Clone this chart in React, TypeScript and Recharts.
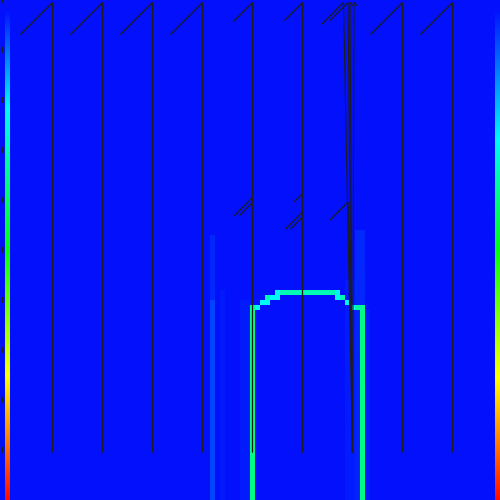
import { ComposedChart, XAxis, YAxis, ReferenceArea, ReferenceLine } from "recharts"

// grid is 100 x 100 cells, each cell 5px; rows counted from the top
const colorStops: [number, number[]][] = [
  [0, [2, 16, 252]],
  [0.25, [0, 248, 255]],
  [0.5, [0, 255, 16]],
  [0.75, [255, 255, 0]],
  [1, [255, 8, 0]],
]

// faint column tints in the field
const tintCol = [42, 42, 44, 48, 69, 71, 71, 73]
const tintWidth = [1, 1, 1, 2, 2, 2, 1, 1]
const tintRow = [47, 60, 58, 60, 56, 46, 62, 62]
const tintValue = [0.025, 0.055, 0.01, 0.012, 0.012, 0.025, 0.02, 0.012]

// the cyan / green ring
const ringCol = [55, 56, 67, 53, 54, 67, 68, 52, 69, 50, 51, 70, 71, 50, 72]
const ringRow = [58, 58, 58, 59, 59, 59, 59, 60, 60, 61, 61, 61, 61, 62, 62]
const ringWidth = [1, 11, 1, 1, 2, 1, 1, 2, 1, 1, 1, 1, 2, 1, 1]
const ringHeight = [1, 1, 1, 1, 1, 1, 1, 1, 1, 1, 1, 1, 1, 38, 38]
const ringValue = [0.26, 0.33, 0.26, 0.33, 0.26, 0.26, 0.33, 0.26, 0.26, 0.36, 0.26, 0.26, 0.36, 0.38, 0.38]

// wind barbs: staff base, staff tip, barb lengths (negative = small spur to the right)
const barbBaseCol = [10.5, 20.5, 30.5, 40.5, 50.5, 60.5, 80.5, 90.5, 50.5, 60.5, 60.5, 70.5, 70.5, 70.5, 70.5, 70.3]
const barbBaseRow = [90.5, 90.5, 90.5, 90.5, 90.5, 90.5, 90.5, 90.5, 90.5, 90.5, 90.5, 90.5, 90.5, 90.5, 90.5, 70.5]
const barbTipCol = [10.5, 20.5, 30.5, 40.5, 50.5, 60.5, 80.5, 90.5, 50.5, 60.5, 60.5, 68.7, 69.6, 70.0, 70.8, 69.6]
const barbTipRow = [0.5, 0.5, 0.5, 0.5, 0.5, 0.5, 0.5, 0.5, 39.5, 38.7, 42.4, 0.5, 0.5, 0.5, 0.5, 40.4]
const barbTicks = [
  [6.4], [6.4], [6.4], [6.4], [3.8], [3.6], [6.4], [6.4],
  [3.7, 2.6], [1.7], [3.4, 2.4],
  [4.4], [3.6], [-0.6], [-0.6], [3.7, -0.4],
]

const tickRows = [0, 10, 20, 30, 40, 50, 60, 70, 80, 90]

const INK = "#1d1d1d"

function jet(v: number) {
  for (let i = 1; i < colorStops.length; i++) {
    const [p1, c1] = colorStops[i]
    const [p0, c0] = colorStops[i - 1]
    if (v <= p1) {
      const t = (v - p0) / (p1 - p0)
      const c = c0.map((a, k) => Math.round(a + (c1[k] - a) * t))
      return `rgb(${c[0]},${c[1]},${c[2]})`
    }
  }
  const c = colorStops[colorStops.length - 1][1]
  return `rgb(${c[0]},${c[1]},${c[2]})`
}

function barbSegments() {
  const segs: { x1: number; y1: number; x2: number; y2: number }[] = []
  barbTipCol.forEach((tx, i) => {
    const ty = barbTipRow[i]
    const bx = barbBaseCol[i]
    const by = barbBaseRow[i]
    segs.push({ x1: bx, y1: by, x2: tx, y2: ty })
    const len = Math.hypot(bx - tx, by - ty)
    const ux = (bx - tx) / len
    const uy = (by - ty) / len
    barbTicks[i].forEach((L, j) => {
      const sx = tx + ux * j
      const sy = ty + uy * j
      segs.push({ x1: sx, y1: sy, x2: sx + (L > 0 ? -L : -L), y2: sy + Math.abs(L) })
    })
  })
  return segs
}

export default function App() {
  const segs = barbSegments()
  return (
    <div style={{ position: "absolute", left: 0, top: 0, width: 500, height: 500 }}>
      <ComposedChart width={500} height={500} data={[{ x: 0, y: 0 }]} margin={{ top: 0, right: 0, bottom: 0, left: 0 }}>
        <defs>
          <linearGradient id="barLeft" x1="0" y1="0" x2="0" y2="1">
            <stop offset="0" stopColor={jet(0)} />
            <stop offset="0.2" stopColor={jet(0.25)} />
            <stop offset="0.49" stopColor={jet(0.5)} />
            <stop offset="0.745" stopColor={jet(0.75)} />
            <stop offset="1" stopColor={jet(1)} />
          </linearGradient>
          <linearGradient id="barRight" x1="0" y1="0" x2="0" y2="1">
            <stop offset="0" stopColor={jet(0)} />
            <stop offset="0.265" stopColor={jet(0.25)} />
            <stop offset="0.49" stopColor={jet(0.5)} />
            <stop offset="0.75" stopColor={jet(0.75)} />
            <stop offset="1" stopColor={jet(1)} />
          </linearGradient>
        </defs>
        <XAxis type="number" dataKey="x" domain={[0, 100]} allowDataOverflow hide />
        <YAxis type="number" dataKey="y" domain={[0, 100]} allowDataOverflow reversed hide />

        <ReferenceArea x1={0} x2={100} y1={0} y2={100} fill={jet(0)} fillOpacity={1} stroke="none" />
        {tintCol.map((c, i) => (
          <ReferenceArea key={`t${i}`} x1={c} x2={c + tintWidth[i]} y1={tintRow[i]} y2={100}
            fill={jet(tintValue[i])} fillOpacity={1} stroke="none" />
        ))}
        {ringCol.map((c, i) => (
          <ReferenceArea key={`r${i}`} x1={c} x2={c + ringWidth[i]} y1={ringRow[i]} y2={ringRow[i] + ringHeight[i]}
            fill={jet(ringValue[i])} fillOpacity={1} stroke="none" />
        ))}
        <ReferenceArea x1={1} x2={2} y1={2} y2={100} fill="url(#barLeft)" fillOpacity={1} stroke="none" />
        <ReferenceArea x1={99} x2={100} y1={2} y2={100} fill="url(#barRight)" fillOpacity={1} stroke="none" />

        {tickRows.map((r) => (
          <ReferenceLine key={`k${r}`} ifOverflow="hidden" stroke={INK} strokeWidth={1}
            segment={[{ x: 0.5, y: r - 0.6 }, { x: 0.5, y: r + 0.6 }]} />
        ))}
        {segs.map((s, i) => (
          <ReferenceLine key={`b${i}`} ifOverflow="visible" stroke={INK} strokeWidth={1.1}
            segment={[{ x: s.x1, y: s.y1 }, { x: s.x2, y: s.y2 }]} />
        ))}
      </ComposedChart>
    </div>
  )
}
